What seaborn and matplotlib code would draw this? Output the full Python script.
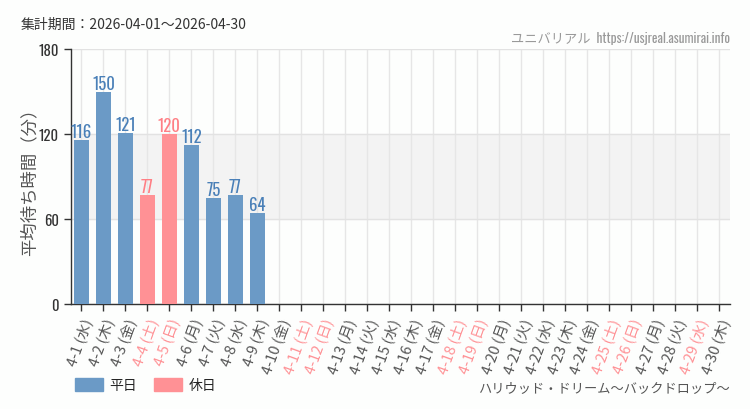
import numpy as np
import pandas as pd
import matplotlib
matplotlib.use("Agg")
import matplotlib.pyplot as plt
import seaborn as sns
from matplotlib.patches import Patch

# data
days = [f"4-{d}" for d in range(1, 31)]
weekdays = (["水", "木", "金", "土", "日", "月", "火"] * 5)[:30]
holidays = {"4-4", "4-5", "4-11", "4-12", "4-18", "4-19", "4-25", "4-26", "4-29"}
waits = [116, 150, 121, 77, 120, 112, 75, 77, 64] + [np.nan] * 21

labels = [f"{d} ({w})" for d, w in zip(days, weekdays)]
kinds = ["休日" if d in holidays else "平日" for d in days]
df = pd.DataFrame({"date": labels, "wait": waits, "kind": kinds})

blue = "#6b9ac6"
pink = "#ff9195"
blue_txt = "#4a80b8"
pink_txt = "#ff7f85"
narrow = ["Oswald", "Noto Sans CJK JP", "DejaVu Sans"]

sns.set_style("white")
plt.rcParams["font.family"] = ["Noto Sans CJK JP", "DejaVu Sans"]

fig = plt.figure(figsize=(7.5, 4.1), dpi=100)
fig.patch.set_facecolor("#fdfefd")
ax = fig.add_axes([0.094, 0.256, 0.879, 0.622])
ax.set_facecolor("#fdfefd")

ax.axhspan(60, 120, color="#f3f3f3", zorder=0)
sns.barplot(data=df, x="date", y="wait", hue="kind", order=labels,
            hue_order=["平日", "休日"], palette={"平日": blue, "休日": pink},
            dodge=False, width=0.68, saturation=1, linewidth=0,
            ax=ax, zorder=3, legend=False)

for cont, col in zip(ax.containers, [blue_txt, pink_txt]):
    vals = [f"{v:.0f}" if not np.isnan(v) else "" for v in cont.datavalues]
    ax.bar_label(cont, labels=vals, color=col, fontsize=12, padding=0,
                 family=narrow)

ax.set_ylim(0, 180)
ax.set_xlim(-0.5, 29.5)
ax.set_yticks([0, 60, 120, 180])
ax.yaxis.grid(True, color="#e2e2e2", lw=1, zorder=1)
ax.xaxis.grid(True, color="#e6e6e6", lw=1, zorder=1)
ax.set_axisbelow(True)
for s in ["top", "right"]:
    ax.spines[s].set_visible(False)
for s in ["left", "bottom"]:
    ax.spines[s].set_color("#333333")
    ax.spines[s].set_linewidth(1)
ax.tick_params(axis="both", direction="out", length=5, width=1, color="#333333",
               labelcolor="#333333", labelsize=10.5, bottom=True, left=True)
ax.set_xticks(range(30))
ax.set_xticklabels(labels, rotation=70, ha="right", rotation_mode="anchor")
for t, k in zip(ax.get_xticklabels(), kinds):
    t.set_color(pink if k == "休日" else "#555555")
for t in ax.get_yticklabels():
    t.set_fontfamily(narrow)
    t.set_fontsize(10.5)
ax.set_xlabel("")
ax.set_ylabel("平均待ち時間（分）", fontsize=12.5, color="#555555")
ax.yaxis.set_label_coords(-0.048, 0.5)

fig.text(0.027, 0.93, "集計期間：2026-04-01～2026-04-30", fontsize=10, color="#333333")
fig.text(0.973, 0.895, "ユニバリアル  https://usjreal.asumirai.info", fontsize=9.5,
         color="#999999", ha="right", family=narrow)
fig.text(0.973, 0.045, "ハリウッド・ドリーム～バックドロップ～", fontsize=9.5,
         color="#555555", ha="right")

handles = [Patch(color=blue, label="平日"), Patch(color=pink, label="休日")]
fig.legend(handles=handles, loc="lower left", bbox_to_anchor=(0.083, 0.01), ncol=2,
           frameon=False, fontsize=10, handlelength=2, handleheight=1,
           columnspacing=1.2, handletextpad=0.5)

fig.savefig("out.png", dpi=100, facecolor=fig.get_facecolor())
